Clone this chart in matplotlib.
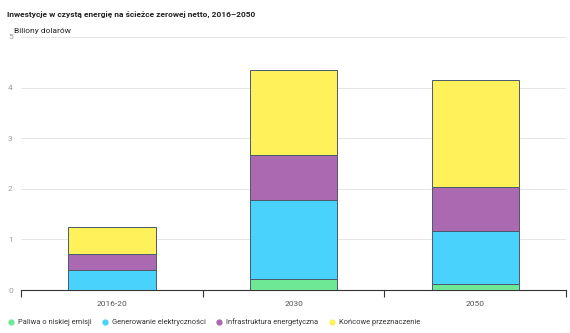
import matplotlib
matplotlib.use("Agg")
import matplotlib.pyplot as plt
from matplotlib.lines import Line2D
import numpy as np

plt.rcParams["font.family"] = ["Roboto", "DejaVu Sans"]

# ── data (trillions USD) ───────────────────────────────────────────────────
periods = ["2016-20", "2030", "2050"]
low_emission_fuels = [0.0, 0.21, 0.12]
electricity_gen    = [0.40, 1.57, 1.05]
energy_infra       = [0.31, 0.89, 0.86]
end_use            = [0.53, 1.67, 2.12]

series = [
    ("Paliwa o niskiej emisji", low_emission_fuels, "#6ee894"),
    ("Generowanie elektryczności", electricity_gen, "#48d2fc"),
    ("Infrastruktura energetyczna", energy_infra, "#aa69b0"),
    ("Końcowe przeznaczenie", end_use, "#fff159"),
]

# ── figure ─────────────────────────────────────────────────────────────────
fig = plt.figure(figsize=(5.7, 3.33), dpi=100)
ax = fig.add_axes([0.037, 0.129, 0.956, 0.760])

x = np.arange(len(periods))
bottom = np.zeros(len(periods))
for label, vals, col in series:
    ax.bar(x, vals, width=0.48, bottom=bottom, color=col,
           edgecolor="#4a5a6a", linewidth=0.7, zorder=3, label=label)
    bottom += np.array(vals)

ax.set_xlim(-0.5, 2.5)
ax.set_ylim(0, 5)
ax.set_yticks(range(0, 6))
ax.tick_params(axis="y", length=0, labelsize=6, labelcolor="#999999", pad=6)
ax.grid(axis="y", color="#e6e6e6", linewidth=0.7, zorder=0)

ax.set_xticks(x)
ax.set_xticklabels(periods)
ax.tick_params(axis="x", which="major", length=0, labelsize=6,
               labelcolor="#555555", pad=8)
ax.set_xticks([-0.5, 0.5, 1.5, 2.5], minor=True)
ax.tick_params(axis="x", which="minor", length=5, width=0.8, color="#333333")

for s in ["top", "right", "left"]:
    ax.spines[s].set_visible(False)
ax.spines["bottom"].set_color("#333333")
ax.spines["bottom"].set_linewidth(0.8)

fig.text(0.012, 0.958, "Inwestycje w czystą energię na ścieżce zerowej netto, 2016–2050",
         fontsize=6.0, fontweight="bold", color="#222222", va="center")
fig.text(0.025, 0.908, "Biliony dolarów", fontsize=6, color="#222222", va="center")

handles = [Line2D([], [], marker="o", ls="", color=col, markersize=3.5)
           for _, _, col in series]
fig.legend(handles, [s[0] for s in series], loc="lower left",
           bbox_to_anchor=(0.003, 0.0), ncol=4, frameon=False, fontsize=5.4,
           handlelength=0.8, handletextpad=0.5, columnspacing=1.4,
           labelcolor="#333333")

plt.savefig("out.png", dpi=100)
